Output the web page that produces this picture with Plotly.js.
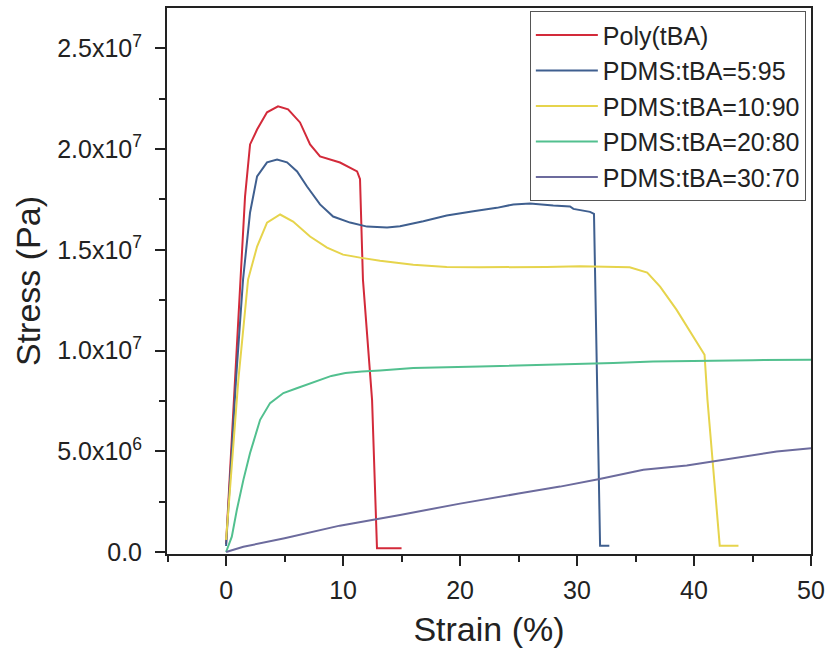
<!DOCTYPE html>
<html>
<head>
<meta charset="utf-8">
<script src="https://cdn.plot.ly/plotly-3.0.1.min.js"></script>
<style>
  html, body { margin: 0; padding: 0; background: #fff; }
  #chart { width: 831px; height: 650px; }
</style>
</head>
<body>
<div id="chart"></div>
<script>
// Tensile stress-strain curves (strain in %, stress in Pa)
const seriesNames = ['Poly(tBA)', 'PDMS:tBA=5:95', 'PDMS:tBA=10:90', 'PDMS:tBA=20:80', 'PDMS:tBA=30:70'];

const strainPoly = [0, 0.77, 1.2, 1.62, 2.05, 2.65, 3.5, 4.44, 5.3, 6.32, 7.18, 8.03, 9.74, 11.2, 11.45, 11.7, 12.48, 12.9, 15.0];
const stressPoly = [0.4e6, 8.55e6, 1.352e7, 1.764e7, 2.023e7, 2.097e7, 2.182e7, 2.212e7, 2.197e7, 2.132e7, 2.023e7, 1.963e7, 1.933e7, 1.889e7, 1.85e7, 1.352e7, 7.55e6, 0.18e6, 0.18e6];

const strain595 = [0, 0.85, 1.45, 2.05, 2.65, 3.5, 4.36, 5.21, 6.07, 6.92, 8.03, 9.15, 10.6, 12.05, 13.76, 14.87, 16.86, 18.86, 21.14, 23.14, 24.56, 25.98, 27.97, 29.4, 29.69, 31.11, 31.45, 31.74, 31.97, 32.76];
const stress595 = [0.3e6, 8.55e6, 1.352e7, 1.685e7, 1.864e7, 1.934e7, 1.948e7, 1.934e7, 1.889e7, 1.814e7, 1.725e7, 1.665e7, 1.635e7, 1.615e7, 1.61e7, 1.617e7, 1.642e7, 1.670e7, 1.691e7, 1.708e7, 1.725e7, 1.730e7, 1.720e7, 1.715e7, 1.703e7, 1.688e7, 1.678e7, 7.55e6, 0.31e6, 0.31e6];

const strain1090 = [0, 1.05, 1.88, 2.65, 3.5, 4.62, 5.73, 7.18, 8.63, 10.0, 11.45, 13.16, 16.0, 18.86, 21.7, 24.56, 27.4, 30.26, 33.1, 34.5, 36.0, 37.1, 38.5, 39.7, 40.9, 41.15, 42.2, 43.8];
const stress1090 = [0.6e6, 8.55e6, 1.352e7, 1.516e7, 1.635e7, 1.675e7, 1.64e7, 1.566e7, 1.511e7, 1.476e7, 1.461e7, 1.446e7, 1.426e7, 1.415e7, 1.413e7, 1.413e7, 1.415e7, 1.418e7, 1.415e7, 1.413e7, 1.387e7, 1.317e7, 1.203e7, 1.088e7, 9.79e6, 7.55e6, 0.31e6, 0.31e6];

const strain2080 = [0, 0.49, 0.92, 1.48, 2.05, 2.91, 3.76, 4.9, 6.04, 7.18, 8.03, 9.0, 10.2, 11.6, 13.16, 16.0, 21.7, 27.4, 33.1, 36.5, 40.5, 45, 50];
const stress2080 = [0, 0.76e6, 2.09e6, 3.58e6, 4.91e6, 6.56e6, 7.39e6, 7.89e6, 8.13e6, 8.38e6, 8.55e6, 8.74e6, 8.88e6, 8.96e6, 9.01e6, 9.13e6, 9.21e6, 9.29e6, 9.38e6, 9.46e6, 9.5e6, 9.52e6, 9.54e6];

const strain3070 = [0, 1.48, 5, 9.72, 14.87, 20, 25, 28.55, 31.82, 35.67, 39.38, 41.65, 44.21, 47.07, 50];
const stress3070 = [0, 0.26e6, 0.68e6, 1.307e6, 1.84e6, 2.4e6, 2.9e6, 3.245e6, 3.613e6, 4.076e6, 4.289e6, 4.488e6, 4.737e6, 4.985e6, 5.15e6];

const lineColors = ['#d32a3a', '#3f5f8f', '#e6d44c', '#52c08f', '#6c6b9d'];

// Stress axis tick labels
const stressTickVals = [0, 5e6, 1e7, 1.5e7, 2e7, 2.5e7];
const stressTickText = ['0.0', '5.0x10<sup>6</sup>', '1.0x10<sup>7</sup>', '1.5x10<sup>7</sup>', '2.0x10<sup>7</sup>', '2.5x10<sup>7</sup>'];
const strainTickVals = [0, 10, 20, 30, 40, 50];

const xs = [strainPoly, strain595, strain1090, strain2080, strain3070];
const ys = [stressPoly, stress595, stress1090, stress2080, stress3070];

const traces = seriesNames.map((name, i) => ({
  type: 'scatter',
  mode: 'lines',
  name: name,
  x: xs[i],
  y: ys[i],
  line: { color: lineColors[i], width: 2 },
  hoverinfo: 'skip'
}));

const FONT = 'Liberation Sans, Arial, Helvetica, sans-serif';
const INK = '#222222';

const axisCommon = {
  showline: true,
  linecolor: INK,
  linewidth: 2,
  mirror: true,
  ticks: 'outside',
  ticklen: 10,
  tickwidth: 2,
  tickcolor: INK,
  showgrid: false,
  zeroline: false,
  tickfont: { family: FONT, size: 25, color: INK }
};

const layout = {
  width: 831,
  height: 650,
  paper_bgcolor: '#ffffff',
  plot_bgcolor: '#ffffff',
  margin: { l: 167, r: 20, t: 8, b: 96 },
  showlegend: true,
  xaxis: Object.assign({}, axisCommon, {
    range: [-5.05, 50],
    tickmode: 'array',
    tickvals: strainTickVals,
    ticktext: strainTickVals.map(String),
    ticklabelstandoff: 3,
    minor: { tickmode: 'linear', tick0: 0, dtick: 5, ticks: 'outside', ticklen: 6, tickwidth: 2, tickcolor: INK },
    title: { text: 'Strain (%)', font: { family: FONT, size: 34, color: INK }, standoff: 14 },
    automargin: false
  }),
  yaxis: Object.assign({}, axisCommon, {
    range: [-1e5, 2.7e7],
    tickmode: 'array',
    tickvals: stressTickVals,
    ticktext: stressTickText,
    ticklabelstandoff: 8,
    minor: { tickmode: 'linear', tick0: 0, dtick: 2.5e6, ticks: 'outside', ticklen: 6, tickwidth: 2, tickcolor: INK },
    title: { text: 'Stress (Pa)', font: { family: FONT, size: 34, color: INK }, standoff: 6 },
    automargin: false
  }),
  legend: {
    x: 0.992, xanchor: 'right',
    y: 0.994, yanchor: 'top',
    bgcolor: '#ffffff',
    bordercolor: '#555555',
    borderwidth: 1,
    font: { family: FONT, size: 25, color: INK },
    itemwidth: 62,
    tracegroupgap: 0
  }
};

Plotly.newPlot('chart', traces, layout, { staticPlot: true, displayModeBar: false });
</script>
</body>
</html>
